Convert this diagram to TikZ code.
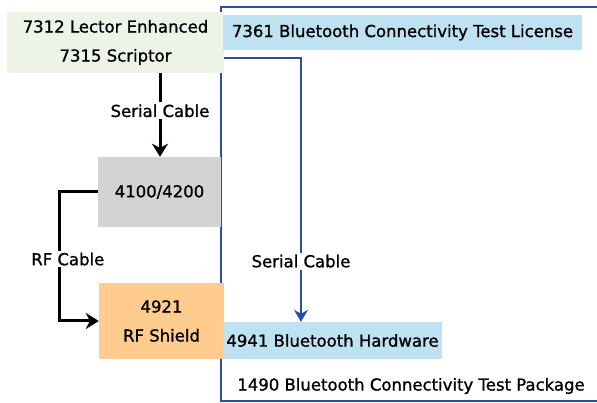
\documentclass[tikz,border=0pt]{standalone}
\usepackage{fontspec}
\setmainfont{DejaVu Sans}[FakeBold=1.1]
\usetikzlibrary{arrows.meta,calc,positioning}
\definecolor{lectorgreen}{HTML}{EEF3E8}
\definecolor{licblue}{HTML}{BEE2F2}
\definecolor{devgray}{HTML}{D3D3D3}
\definecolor{shieldorange}{HTML}{FFCC8E}
\definecolor{pkgblue}{HTML}{2C4DA6}
\tikzset{
  box/.style={inner sep=0pt, font=\fontsize{16.5}{29}\selectfont, align=center},
  cablelabel/.style={fill=white, text=black, inner sep=2pt, font=\fontsize{16.5}{18}\selectfont},
  blackcable/.style={line width=3pt, -{Stealth[length=13pt,width=16pt,inset=4pt]}},
  bluecable/.style={pkgblue, line width=2.8pt, -{Stealth[length=12pt,width=14pt,inset=4pt]}}
}

\begin{document}
\begin{tikzpicture}[x=1pt,y=-1pt]
\useasboundingbox (0,0) rectangle (597,403);
% package frame
\draw[pkgblue, line width=2.2pt] (221,7) rectangle (600,401);
\node[box] (pkg) at (411,386) {1490 Bluetooth Connectivity Test Package};
% boxes
\node[box, fill=lectorgreen, minimum width=217, minimum height=61] (lector) at (115.5,42.5) {7312 Lector Enhanced\\7315 Scriptor};
\node[box, fill=licblue, minimum width=359, minimum height=35] (license) at (402.5,32.5) {7361 Bluetooth Connectivity Test License};
\node[box, fill=devgray, minimum width=123, minimum height=70] (dev) at (159.5,192) {4100/4200};
\node[box, fill=shieldorange, minimum width=125, minimum height=76] (shield) at (161.5,321) {4921\\RF Shield};
\node[box, fill=licblue, minimum width=219, minimum height=37] (hw) at (332.5,340.5) {4941 Bluetooth Hardware};
% cables
\coordinate (bend) at (301,58);
\draw[blackcable] (lector.south -| 160,0) -- node[cablelabel, pos=0.45] {Serial Cable} (dev.north -| 160,0);
\draw[blackcable] (dev.west) -- ++(-38,0) |- node[cablelabel, pos=0.26, xshift=8] {RF Cable} (shield.west);
\draw[bluecable] (lector.east |- bend) -- (bend) -- node[cablelabel, pos=0.77] {Serial Cable} (bend |- hw.north);
\end{tikzpicture}
\end{document}
